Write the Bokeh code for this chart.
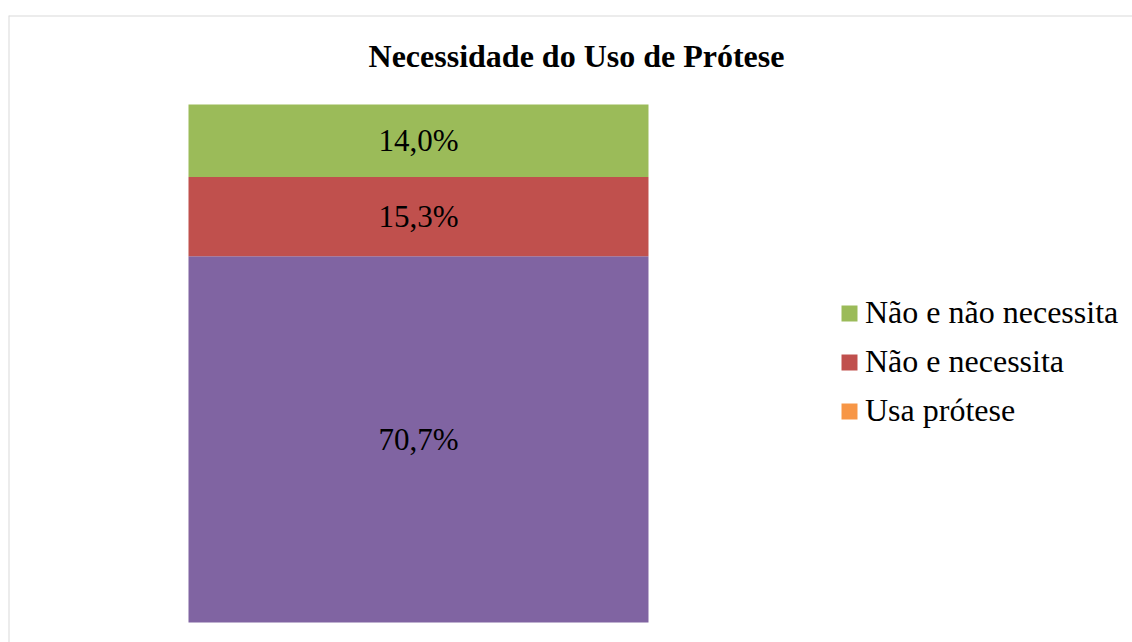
from bokeh.plotting import figure
from bokeh.models import Range1d, Legend, LegendItem, Label, ColumnDataSource, Span
from bokeh.core.properties import value
from bokeh.embed import file_html
from bokeh.resources import INLINE

title_text = "Necessidade do Uso de Prótese"
category = [0]
series_names = ["Usa prótese", "Não e necessita", "Não e não necessita"]
bar_values = [70.7, 15.3, 14.0]          # stacked bottom -> top
bar_colors = ["#8064A2", "#C0504D", "#9BBB59"]
legend_colors = ["#F79646", "#C0504D", "#9BBB59"]
value_labels = ["70,7%", "15,3%", "14,0%"]

FONT = "Liberation Serif"

x_rng = Range1d(-0.8913, 1.5522)
y_rng = Range1d(-3.861, 117.18)
p = figure(width=1132, height=642, output_backend="svg", toolbar_location=None,
           x_range=x_rng, y_range=y_rng,
           min_border_left=8, min_border_right=0, min_border_bottom=0, min_border_top=15)
p.axis.visible = False
p.grid.visible = False
p.outline_line_color = None
p.background_fill_color = "white"
p.border_fill_color = "white"

# chart-area border: only top and left edges are visible in the original (rest is cropped)
p.add_layout(Span(location=y_rng.end, dimension="width", line_color="#d9d9d9", line_width=2))
p.add_layout(Span(location=x_rng.start, dimension="height", line_color="#d9d9d9", line_width=2))

data = {"x": category}
for name, v in zip(series_names, bar_values):
    data[name] = [v]
src = ColumnDataSource(data)
bars = p.vbar_stack(series_names, x="x", width=1.0, color=bar_colors, source=src, line_width=0)

# value labels at segment centres
centres = []
acc = 0.0
for v in bar_values:
    centres.append(acc + v / 2)
    acc += v
p.text(x=[category[0]] * 3, y=centres, text=value_labels,
       text_font=value(FONT), text_font_size="31px", text_color="black",
       text_align="center", text_baseline="middle")

# legend swatch for "Usa prótese" is orange in the original (zero-width, invisible in plot)
orange_r = p.vbar(x="x", top=series_names[0], width=0, source=src,
                  fill_color=legend_colors[0], line_color=None)

items = [LegendItem(label=series_names[2], renderers=[bars[2]]),
         LegendItem(label=series_names[1], renderers=[bars[1]]),
         LegendItem(label=series_names[0], renderers=[orange_r])]
legend = Legend(items=items, location=(831, 213), orientation="vertical",
                label_text_font=FONT, label_text_font_size="32px", label_text_color="black",
                glyph_width=20, glyph_height=20, label_height=37, spacing=12,
                label_standoff=6, padding=0, margin=0,
                border_line_color=None, background_fill_alpha=0)
p.add_layout(legend, "center")

title = Label(x=568, y=587, x_units="screen", y_units="screen", text=title_text,
              text_font=FONT, text_font_size="32px", text_font_style="bold",
              text_align="center", text_baseline="middle", text_color="black")
p.add_layout(title)

open("out.html", "w").write(file_html(p, INLINE))
